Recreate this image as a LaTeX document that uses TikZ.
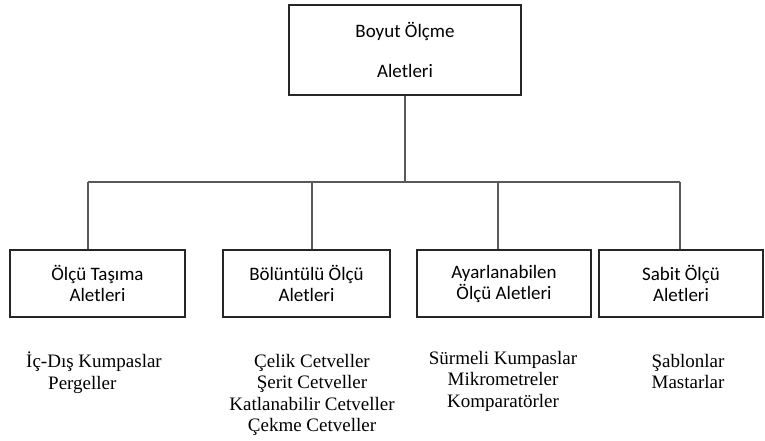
\documentclass[tikz,border=0pt]{standalone}
\usepackage{fontspec}
\setmainfont{Liberation Serif}
\newfontfamily\boxfont{Carlito}
\begin{document}
\begin{tikzpicture}[x=1pt,y=-1pt,
  box/.style={draw=black!85, line width=1.3pt, inner sep=0pt, align=center,
    font=\boxfont\fontsize{19}{21}\selectfont},
  conn/.style={draw=black!65, line width=1.3pt},
  listtext/.style={inner sep=0pt, anchor=north, font=\fontsize{19}{21.5}\selectfont}]
\useasboundingbox (0,0) rectangle (765,440);

\node[box, minimum width=232pt, minimum height=90pt,
  font=\boxfont\fontsize{19}{40}\selectfont] (top) at (405,50) {Boyut Ölçme\\Aletleri};

\node[box, minimum width=175pt, minimum height=67pt] (b1) at (97.5,283.5) {Ölçü Taşıma\\Aletleri};
\node[box, minimum width=167pt, minimum height=67pt] (b2) at (306.5,283.5) {Bölüntülü Ölçü\\Aletleri};
\node[box, minimum width=174pt, minimum height=67pt] (b3) at (504,283.5) {Ayarlanabilen\\Ölçü Aletleri};
\node[box, minimum width=164pt, minimum height=67pt] (b4) at (681,283.5) {Sabit Ölçü\\Aletleri};

\coordinate (c1) at (88,182);
\coordinate (c2) at (312,182);
\coordinate (c3) at (498,182);
\coordinate (c4) at (680,182);

\draw[conn] (top.south) -- (top.south |- c1);
\draw[conn] (c1) -- (c4);
\draw[conn] (c1) -- (c1 |- b1.north);
\draw[conn] (c2) -- (c2 |- b2.north);
\draw[conn] (c3) -- (c3 |- b3.north);
\draw[conn] (c4) -- (c4 |- b4.north);

\node[listtext, align=left] (l1) at (94,352) {İç-Dış Kumpaslar\\\hspace*{22pt}Pergeller};
\node[listtext, align=center] (l2) at (312,354) {Çelik Cetveller\\Şerit Cetveller\\Katlanabilir Cetveller\\Çekme Cetveller};
\node[listtext, align=center] (l3) at (503,351) {Sürmeli Kumpaslar\\Mikrometreler\\Komparatörler};
\node[listtext, align=center] (l4) at (688,354) {Şablonlar\\Mastarlar};
\end{tikzpicture}
\end{document}
